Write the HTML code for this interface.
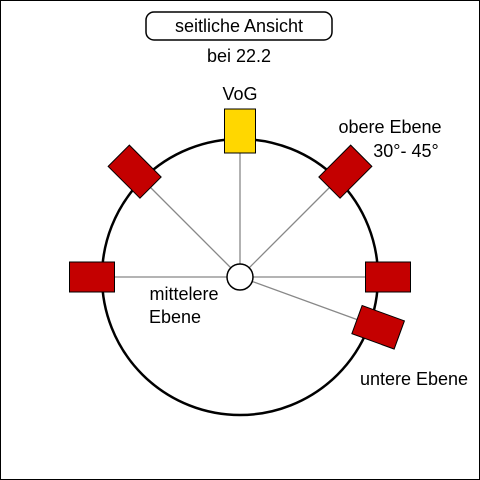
<!DOCTYPE html>
<html><head><meta charset="utf-8"><style>
html,body{margin:0;padding:0;background:#fff}
svg{display:block;font-family:"Liberation Sans","DejaVu Sans",sans-serif}
</style></head><body>
<svg width="480" height="480" viewBox="0 0 480 480">
<rect x="0.5" y="0.5" width="479" height="479" fill="#fff" stroke="#000"/>
<rect x="146" y="12" width="186" height="28" rx="8" fill="#fff" stroke="#000" stroke-width="1.5"/>
<text x="239" y="32" font-size="18" text-anchor="middle">seitliche Ansicht</text>
<text x="239" y="62" font-size="18" text-anchor="middle">bei 22.2</text>
<circle cx="240" cy="277" r="138" fill="none" stroke="#000" stroke-width="2.5"/>
<g id="spk"></g>
<circle cx="240" cy="277" r="13" fill="#fff" stroke="#000" stroke-width="1.5"/>
<text x="240" y="100" font-size="18" text-anchor="middle">VoG</text>
<text x="390" y="133" font-size="18" text-anchor="middle">obere Ebene</text>
<text x="406" y="157" font-size="18" text-anchor="middle">30°- 45°</text>
<text x="184" y="300" font-size="18" text-anchor="middle">mittelere</text>
<text x="175" y="323" font-size="18" text-anchor="middle">Ebene</text>
<text x="414" y="385" font-size="18" text-anchor="middle">untere Ebene</text>
</svg>
<script>
const names=['front-middle','front-upper','vog','back-upper','back-middle','front-lower'];
const angles=[180,135,90,45,0,-20];
const cx=240,cy=277,R=138;
const g=document.getElementById('spk');
const ns='http://www.w3.org/2000/svg';
angles.forEach((a,i)=>{
  const rad=a*Math.PI/180;
  const dist=(a===90)?R+8:(a===-20?R+9:(a%90===0?R+10:R+11));
  const x=cx+dist*Math.cos(rad), y=cy-dist*Math.sin(rad);
  const l=document.createElementNS(ns,'line');
  l.setAttribute('x1',cx);l.setAttribute('y1',cy);l.setAttribute('x2',x);l.setAttribute('y2',y);
  l.setAttribute('stroke','#888');l.setAttribute('stroke-width','1.3');
  
  
  g.appendChild(l);
  const r=document.createElementNS(ns,'rect');
  const w=a===90?31:45, h=a===90?44:30;
  r.setAttribute('x',-w/2);r.setAttribute('y',-h/2);r.setAttribute('width',w);r.setAttribute('height',h);
  r.setAttribute('fill',a===90?'#ffd700':'#c40000');r.setAttribute('stroke','#000');r.setAttribute('stroke-width','1');
  const rot=(a===90)?0:-a;
  r.setAttribute('transform','translate('+x+','+y+') rotate('+rot+')');
  
  
  g.appendChild(r);
});
</script>
</body></html>
